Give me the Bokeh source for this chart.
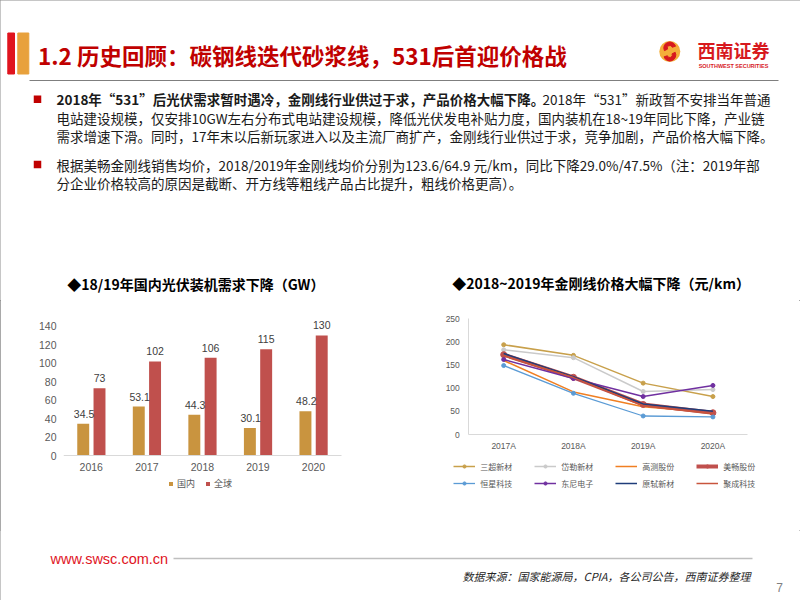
from bokeh.plotting import figure
from bokeh.layouts import column, row
from bokeh.models import (Range1d, ColumnDataSource, Legend, LegendItem,
                          FixedTicker)
from bokeh.transform import dodge
from bokeh.core.properties import value
from bokeh.embed import file_html
from bokeh.resources import INLINE

CJK = "Noto Sans CJK SC"
ARIAL = "Liberation Sans"

# ---------------- data ----------------
years = ["2016", "2017", "2018", "2019", "2020"]
domestic = [34.5, 53.1, 44.3, 30.1, 48.2]
global_ = [73, 102, 106, 115, 130]
bar_yticks = [0, 20, 40, 60, 80, 100, 120, 140]
bar_series = ["国内", "全球"]

price_years = ["2017A", "2018A", "2019A", "2020A"]
price_yticks = [0, 50, 100, 150, 200, 250]
sanchao = [194, 171, 111, 82]
daile = [183, 166, 93, 97]
gaoce = [160, 92, 60, 47]
meichang = [172.5, 123.6, 64.9, 47]
hengxing = [149, 89, 40, 38]
dongni = [162, 121, 82, 106]
yuanshi = [175, 125, 66, 50]
jucheng = [170, 123, 62, 45]
company_names = ["三超新材", "岱勒新材", "高测股份", "美畅股份",
                 "恒星科技", "东尼电子", "原轼新材", "聚成科技"]

title_text = "1.2 历史回顾：碳钢线迭代砂浆线，531后首迎价格战"
para1_bold = "2018年“531”后光伏需求暂时遇冷，金刚线行业供过于求，产品价格大幅下降。"
para1_rest = "2018年“531”新政暂不安排当年普通"
para1_lines = [
    "电站建设规模，仅安排10GW左右分布式电站建设规模，降低光伏发电补贴力度，国内装机在18~19年同比下降，产业链",
    "需求增速下滑。同时，17年末以后新玩家进入以及主流厂商扩产，金刚线行业供过于求，竞争加剧，产品价格大幅下降。",
]
para2_lines = [
    "根据美畅金刚线销售均价，2018/2019年金刚线均价分别为123.6/64.9  元/km，同比下降29.0%/47.5%（注：2019年部",
    "分企业价格较高的原因是截断、开方线等粗线产品占比提升，粗线价格更高）。",
]
left_title = "◆18/19年国内光伏装机需求下降（GW）"
right_title = "◆2018~2019年金刚线价格大幅下降（元/km）"
source_text = "数据来源：国家能源局，CPIA，各公司公告，西南证券整理"


def blank(width, height, y0, y1):
    p = figure(width=width, height=height, x_range=Range1d(0, width),
               y_range=Range1d(y1, y0), x_axis_type=None, y_axis_type=None,
               output_backend="svg", toolbar_location=None, min_border=0)
    p.grid.visible = False
    p.outline_line_color = None
    return p


def txt(p, x, y, s, size, color, style="normal", align="left", font=CJK):
    p.text(x=[x], y=[y], text=[s], text_font=value(font),
           text_font_size=value(size), text_color=color,
           text_font_style=value(style), text_align=align,
           text_baseline="middle")


def style_axis(ax, size):
    ax.major_tick_line_color = None
    ax.minor_tick_line_color = None
    ax.major_tick_out = 0
    ax.major_tick_in = 0
    ax.major_label_text_font = ARIAL
    ax.major_label_text_font_size = size
    ax.major_label_text_color = "#595959"


# ---------------- header ----------------
hdr = blank(800, 300, 0, 300)
hdr.quad(left=[7.3], right=[14], top=[32.5], bottom=[73.5], color="#E0141E")
hdr.quad(left=[17.3], right=[28.3], top=[32.5], bottom=[73.5], color="#E8A13C")
txt(hdr, 37.5, 54, title_text, "22.5px", "#C00000", "bold")
hdr.segment(x0=[29], y0=[80], x1=[778], y1=[80], line_color="#7F7F7F", line_width=1)

# logo
hdr.scatter(x=[669.3], y=[51], size=21, marker="circle", fill_color="#F4AE3A",
            line_color=None)
hdr.annular_wedge(x=[669.3], y=[47.5], inner_radius=2.5, outer_radius=6,
                  start_angle=0.3, end_angle=3.6, inner_radius_units="screen",
                  outer_radius_units="screen", color="#D7191E")
hdr.annular_wedge(x=[669.3], y=[54.5], inner_radius=2.5, outer_radius=6,
                  start_angle=3.45, end_angle=6.75, inner_radius_units="screen",
                  outer_radius_units="screen", color="#D7191E")
txt(hdr, 733, 49, "西南证券", "18px", "#D7191E", "bold", "center")
txt(hdr, 733, 65.5, "SOUTHWEST SECURITIES", "5.5px", "#D7191E", "bold", "center", ARIAL)

# bullets and text
hdr.scatter(x=[37, 37], y=[98.8, 164], size=7.5, marker="square",
            fill_color="#C00000", line_color=None)
txt(hdr, 56, 98.7, para1_bold, "13.5px", "#1A1A1A", "bold")
txt(hdr, 542, 98.7, para1_rest, "13.5px", "#1A1A1A")
txt(hdr, 56, 117.3, para1_lines[0], "13.5px", "#1A1A1A")
txt(hdr, 56, 135.6, para1_lines[1], "13.5px", "#1A1A1A")
txt(hdr, 56, 164, para2_lines[0], "13.5px", "#1A1A1A")
txt(hdr, 56, 182.4, para2_lines[1], "13.5px", "#1A1A1A")

txt(hdr, 66.7, 283.3, left_title, "14px", "#000000", "bold")
txt(hdr, 451.7, 282.3, right_title, "14px", "#000000", "bold")

# ---------------- left bar chart ----------------
# frame: x 63.3..390 (55.5 px per category), y 314..505 ; value 0 at y=455.3
xc = [i + 0.5 for i in range(len(years))]
src = ColumnDataSource(dict(
    xc=xc, dom=domestic, glob=global_,
    dom_lbl=[f"{v:g}" for v in domestic],
    glob_lbl=[f"{v:g}" for v in global_]))

left = figure(width=400, height=230, x_range=Range1d(0, 5.886),
              y_range=Range1d(-53.8, 152.7), output_backend="svg",
              toolbar_location=None, min_border_left=63, min_border_right=10,
              min_border_top=14, min_border_bottom=25)
left.outline_line_color = None
left.grid.visible = False
r_dom = left.vbar(x=dodge("xc", -0.145), top="dom", width=0.215, source=src,
                  fill_color="#C9943F", line_color=None)
r_glob = left.vbar(x=dodge("xc", 0.148), top="glob", width=0.215, source=src,
                   fill_color="#C0504D", line_color=None)
for col, lbl, off in (("dom", "dom_lbl", -0.13), ("glob", "glob_lbl", 0.148)):
    left.text(x=dodge("xc", off), y=col, text=lbl, source=src, y_offset=-10,
              text_align="center", text_baseline="middle",
              text_font=value(ARIAL), text_font_size=value("10.5px"),
              text_color="#404040")

left.yaxis.ticker = FixedTicker(ticks=bar_yticks)
left.yaxis.bounds = (0, 140)
left.xaxis.ticker = FixedTicker(ticks=xc)
left.xaxis.major_label_overrides = {c: y for c, y in zip(xc, years)}
left.xaxis.fixed_location = 0
left.xaxis.bounds = (0, 5)
style_axis(left.xaxis[0], "10.5px")
style_axis(left.yaxis[0], "10.5px")
left.yaxis.axis_line_color = None
left.yaxis.major_label_standoff = 7
left.xaxis.axis_line_color = "#D9D9D9"
left.xaxis.major_label_standoff = 7

leg_l = Legend(items=[LegendItem(label=bar_series[0], renderers=[r_dom]),
                      LegendItem(label=bar_series[1], renderers=[r_glob])],
               orientation="horizontal", location=(105, 15),
               glyph_width=5, glyph_height=5, label_standoff=4, spacing=10,
               padding=0, margin=0, label_height=10, label_width=10,
               border_line_color=None, background_fill_alpha=0,
               label_text_font=CJK, label_text_font_size="9px",
               label_text_color="#595959")
left.add_layout(leg_l)

# ---------------- right line chart ----------------
# frame: x 440..795 (69.75 px per category, first edge at 468.3), y 314..505
pxc = [i + 0.5 for i in range(len(price_years))]
right = figure(width=400, height=230, x_range=Range1d(-0.406, 4.684),
               y_range=Range1d(-153.4, 259.3), output_backend="svg",
               toolbar_location=None, min_border_left=40, min_border_right=5,
               min_border_top=14, min_border_bottom=25)
right.outline_line_color = None
right.grid.visible = False
right.yaxis.ticker = FixedTicker(ticks=price_yticks)
right.yaxis.bounds = (0, 250)
right.yaxis.fixed_location = 0
right.xaxis.ticker = FixedTicker(ticks=pxc)
right.xaxis.major_label_overrides = {c: y for c, y in zip(pxc, price_years)}
right.xaxis.bounds = (0, 4)
right.xaxis.fixed_location = 0
for ax in (right.xaxis[0], right.yaxis[0]):
    style_axis(ax, "8.5px")
    ax.axis_line_color = "#D9D9D9"
right.yaxis.major_label_standoff = 9
right.xaxis.major_label_standoff = 6

series = [
    (sanchao, "#C8A04B", 1.5, True),
    (daile, "#CACACA", 1.5, True),
    (gaoce, "#F07F22", 1.5, False),
    (meichang, "#C0504D", 4, True),
    (hengxing, "#5B9BD5", 1.3, True),
    (dongni, "#7030A0", 1.5, True),
    (yuanshi, "#1F3D7A", 1.5, False),
    (jucheng, "#C8553D", 1.5, False),
]
items = []
for name, (vals, color, lw, mk) in zip(company_names, series):
    rs = [right.line(x=pxc, y=vals, line_color=color, line_width=lw)]
    if mk:
        rs.append(right.scatter(x=pxc, y=vals, size=4 if lw < 3 else 6,
                                marker="circle", fill_color=color,
                                line_color=color))
    items.append(LegendItem(label=name, renderers=rs))

for k, yloc in ((0, 33.3), (1, 16.3)):
    lg = Legend(items=items[4 * k:4 * k + 4], orientation="horizontal",
                location=(13.3, yloc), glyph_width=22, glyph_height=8,
                label_standoff=5, spacing=22, padding=0, margin=0,
                label_height=10, label_width=10, border_line_color=None,
                background_fill_alpha=0, label_text_font=CJK,
                label_text_font_size="8px", label_text_color="#595959")
    right.add_layout(lg)

# ---------------- footer ----------------
ftr = blank(800, 70, 530, 600)
txt(ftr, 50, 558, "www.swsc.com.cn", "14.5px", "#E0141E", "normal", "left", ARIAL)
ftr.segment(x0=[173], y0=[558], x1=[752], y1=[558], line_color="#BFBFBF",
            line_width=1.5)
txt(ftr, 750, 575.5, source_text, "11px", "#262626", "italic", "right")
txt(ftr, 779, 587, "7", "12px", "#7F7F7F", "normal", "center", ARIAL)

layout = column(hdr, row(left, right), ftr,
                styles={"outline": "1px solid #8C8C8C", "outline-offset": "-1px"})
open("out.html", "w").write(file_html(layout, INLINE))
